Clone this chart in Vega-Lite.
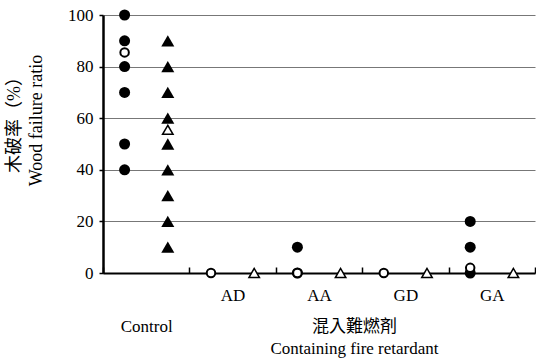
{
  "$schema": "https://vega.github.io/schema/vega-lite/v6.json",
  "width": 432,
  "height": 258,
  "autosize": {"type": "none"},
  "padding": {"left": 103, "top": 15, "right": 1, "bottom": 86},
  "background": "white",
  "config": {"view": {"stroke": null}},
  "data": {"values": [
    {"group": "Control", "series": "circle", "stat": "sample", "ratio": 100},
    {"group": "Control", "series": "circle", "stat": "sample", "ratio": 90},
    {"group": "Control", "series": "circle", "stat": "sample", "ratio": 80},
    {"group": "Control", "series": "circle", "stat": "sample", "ratio": 70},
    {"group": "Control", "series": "circle", "stat": "sample", "ratio": 50},
    {"group": "Control", "series": "circle", "stat": "sample", "ratio": 40},
    {"group": "Control", "series": "circle", "stat": "mean", "ratio": 85.5},
    {"group": "Control", "series": "triangle", "stat": "sample", "ratio": 90},
    {"group": "Control", "series": "triangle", "stat": "sample", "ratio": 80},
    {"group": "Control", "series": "triangle", "stat": "sample", "ratio": 70},
    {"group": "Control", "series": "triangle", "stat": "sample", "ratio": 60},
    {"group": "Control", "series": "triangle", "stat": "sample", "ratio": 50},
    {"group": "Control", "series": "triangle", "stat": "sample", "ratio": 40},
    {"group": "Control", "series": "triangle", "stat": "sample", "ratio": 30},
    {"group": "Control", "series": "triangle", "stat": "sample", "ratio": 20},
    {"group": "Control", "series": "triangle", "stat": "sample", "ratio": 10},
    {"group": "Control", "series": "triangle", "stat": "mean", "ratio": 55.5},
    {"group": "AD", "series": "circle", "stat": "mean", "ratio": 0},
    {"group": "AD", "series": "triangle", "stat": "mean", "ratio": 0},
    {"group": "AA", "series": "circle", "stat": "sample", "ratio": 10},
    {"group": "AA", "series": "circle", "stat": "sample", "ratio": 0},
    {"group": "AA", "series": "circle", "stat": "mean", "ratio": 0},
    {"group": "AA", "series": "triangle", "stat": "mean", "ratio": 0},
    {"group": "GD", "series": "circle", "stat": "mean", "ratio": 0},
    {"group": "GD", "series": "triangle", "stat": "mean", "ratio": 0},
    {"group": "GA", "series": "circle", "stat": "sample", "ratio": 20},
    {"group": "GA", "series": "circle", "stat": "sample", "ratio": 10},
    {"group": "GA", "series": "circle", "stat": "sample", "ratio": 0},
    {"group": "GA", "series": "circle", "stat": "mean", "ratio": 2},
    {"group": "GA", "series": "triangle", "stat": "mean", "ratio": 0}
  ]},
  "encoding": {
    "x": {
      "field": "group", "type": "nominal",
      "scale": {"domain": ["Control", "AD", "AA", "GD", "GA"], "paddingInner": 0, "paddingOuter": 0},
      "axis": {
        "labelAngle": 0,
        "domainColor": "black", "domainWidth": 2,
        "ticks": true, "tickBand": "extent", "tickSize": -6, "tickColor": "black", "tickWidth": 1.5,
        "labelFont": "Liberation Serif", "labelFontSize": 17, "labelColor": "black",
        "labelPadding": {"condition": {"test": "datum.value === 'Control'", "value": 51}, "value": 20},
        "title": ["混入難燃剤", "Containing fire retardant"],
        "titleFont": "'Liberation Serif', 'Noto Sans CJK TC'", "titleFontSize": 17, "titleFontWeight": "normal",
        "titleColor": "black", "titleLineHeight": 22,
        "titleX": 251, "titleY": 45, "titleBaseline": "top"
      }
    },
    "xOffset": {
      "field": "series", "type": "nominal",
      "scale": {"domain": ["circle", "triangle"], "padding": 0.5}
    },
    "y": {
      "field": "ratio", "type": "quantitative",
      "scale": {"domain": [0, 100], "nice": false},
      "axis": {
        "values": [0, 20, 40, 60, 80, 100],
        "grid": true, "gridColor": "#777777", "gridWidth": 1,
        "domainColor": "black", "domainWidth": 2.5,
        "tickColor": "black", "tickSize": 4, "tickWidth": 1.5,
        "labelFont": "Liberation Serif", "labelFontSize": 17, "labelColor": "black", "labelPadding": 6,
        "title": ["木破率（%）", "Wood failure ratio"],
        "titleFont": "'Liberation Serif', 'Noto Sans CJK TC'", "titleFontSize": 18, "titleFontWeight": "normal",
        "titleColor": "black", "titleLineHeight": 22,
        "titlePadding": 22, "titleY": 105
      }
    }
  },
  "layer": [
    {
      "transform": [{"filter": "datum.stat === 'sample' && datum.series === 'circle'"}],
      "mark": {"type": "point", "shape": "circle", "size": 121, "filled": true, "fill": "black", "opacity": 1, "clip": false}
    },
    {
      "transform": [{"filter": "datum.stat === 'sample' && datum.series === 'triangle'"}],
      "mark": {"type": "point", "shape": "triangle-up", "size": 170, "filled": true, "fill": "black", "opacity": 1, "clip": false}
    },
    {
      "transform": [{"filter": "datum.stat === 'mean' && datum.series === 'circle'"}],
      "mark": {"type": "point", "shape": "circle", "size": 72, "filled": true, "fill": "white", "stroke": "black", "strokeWidth": 2, "opacity": 1, "clip": false}
    },
    {
      "transform": [{"filter": "datum.stat === 'mean' && datum.series === 'triangle'"}],
      "mark": {"type": "point", "shape": "triangle-up", "size": 110, "filled": true, "fill": "white", "stroke": "black", "strokeWidth": 1.5, "opacity": 1, "clip": false}
    }
  ]
}
